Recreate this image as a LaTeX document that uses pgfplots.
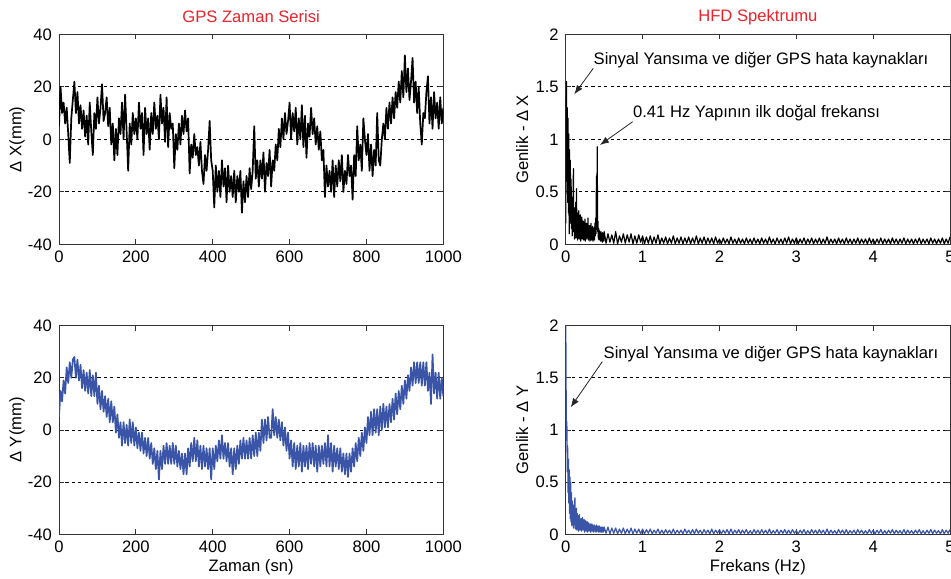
\documentclass[border=0pt]{standalone}
\usepackage{fontspec}
\setmainfont{Liberation Sans}
\usepackage{pgfplots}
\pgfplotsset{compat=1.18}
\usetikzlibrary{arrows.meta}
\definecolor{mlblue}{HTML}{3A55A8}
\definecolor{titlered}{HTML}{E8232B}

\tikzset{
  ann/.style={anchor=base west, inner sep=0pt},
  annarrow/.style={black!85, line width=0.4pt, -{Latex[length=4.5pt,width=3.4pt]}},
}
\pgfplotsset{
  gps/.style={
    scale only axis, width=192.15pt,
    font=\fontsize{8.3}{10}\selectfont,
    /pgf/number format/assume math mode=true,
    /pgf/number format/1000 sep={},
    ymajorgrids,
    major grid style={black, line width=0.4pt, dash pattern=on 1.6pt off 1.6pt},
    axis line style={black!80, line width=0.5pt},
    major tick style={black!80, line width=0.5pt},
    major tick length=2.5pt,
    tick align=inside,
    every axis plot/.append style={line join=round, line width=0.8pt, mark=none},
    every axis title/.style={at={(axis description cs:0.5,1.0586)}, anchor=base, text=titlered},
    xlabel style={at={(axis description cs:0.5,-0.179)}, anchor=base},
    ylabel style={at={(axis description cs:-0.098,0.5)}, anchor=base},
  },
  zaman/.style={gps, xmin=0, xmax=1000, ymin=-40, ymax=40,
    xtick={0,200,...,1000}, ytick={-40,-20,...,40}},
  hfd/.style={gps, xmin=0, xmax=5, ymin=0, ymax=2,
    xtick={0,1,...,5}, ytick={0,0.5,1,1.5,2}},
}

\begin{document}
\begin{tikzpicture}

% ---- GPS time series, X ----
\begin{axis}[zaman, at={(29.5pt,166.85pt)}, anchor=south west, height=105pt,
  title={GPS Zaman Serisi}, ylabel={Δ X(mm)}]
\addplot[black, line width=0.85pt] coordinates {
(0,5) (4,20) (8,10) (12,14) (16,6) (20,12) (24,2) (28,-9) (32,8) (36,15)
(40,22) (44,10) (48,18) (52,6) (56,13) (60,4) (64,11) (68,1) (72,9) (76,-2)
(80,14) (84,3) (88,-6) (92,10) (96,4) (100,16) (104,6) (108,12) (112,21) (116,7)
(120,10) (124,16) (128,5) (132,12) (136,-2) (140,6) (144,-8) (148,4) (152,-6) (156,8)
(160,2) (164,14) (168,0) (172,17) (176,3) (180,-12) (184,6) (188,-2) (192,10) (196,2)
(200,8) (204,0) (208,14) (212,4) (216,10) (220,-6) (224,12) (228,2) (232,8) (236,-4)
(240,10) (244,2) (248,14) (252,4) (256,9) (260,0) (264,17) (268,6) (272,12) (276,-1)
(280,16) (284,-3) (288,10) (292,4) (296,6) (300,-11) (304,2) (308,-4) (312,6) (316,-2)
(320,9) (324,2) (328,11) (332,3) (336,8) (340,-13) (344,-2) (348,-7) (352,2) (356,-6)
(360,-3) (364,-10) (368,-1) (372,-12) (376,-17) (380,-6) (384,-12) (388,-4) (392,7) (396,-8)
(400,-12) (404,-26) (408,-10) (412,-20) (416,-12) (420,-22) (424,-8) (428,-18) (432,-11) (436,-24)
(440,-10) (444,-20) (448,-14) (452,-22) (456,-12) (460,-24) (464,-14) (468,-20) (472,-12) (476,-28)
(480,-16) (484,-24) (488,-14) (492,-22) (496,-11) (500,-19) (504,-12) (508,5) (512,-15) (516,-8)
(520,-18) (524,-8) (528,-15) (532,-5) (536,-20) (540,-9) (544,-14) (548,-4) (552,-18) (556,-8)
(560,-12) (564,-2) (568,-8) (572,4) (576,-3) (580,8) (584,0) (588,10) (592,2) (596,7)
(600,14) (604,0) (608,10) (612,3) (616,12) (620,-2) (624,8) (628,0) (632,13) (636,-3)
(640,9) (644,-7) (648,6) (652,1) (656,12) (660,2) (664,8) (668,-2) (672,5) (676,-4)
(680,3) (684,-8) (688,-4) (692,-22) (696,-10) (700,-18) (704,-12) (708,-20) (712,-8) (716,-22)
(720,-10) (724,-18) (728,-8) (732,-16) (736,-6) (740,-20) (744,-12) (748,-17) (752,-6) (756,-14)
(760,-10) (764,-23) (768,-6) (772,-14) (776,5) (780,-8) (784,-2) (788,-12) (792,8) (796,0)
(800,-6) (804,2) (808,-12) (812,-2) (816,-14) (820,-4) (824,-10) (828,10) (832,-8) (836,-10)
(840,0) (844,6) (848,0) (852,12) (856,4) (860,14) (864,6) (868,16) (872,8) (876,18)
(880,12) (884,22) (888,14) (892,26) (896,16) (900,32) (904,18) (908,27) (912,15) (916,22)
(920,31) (924,14) (928,22) (932,10) (936,20) (940,6) (944,-2) (948,10) (952,8) (956,18)
(960,24) (964,6) (968,16) (972,4) (976,18) (980,8) (984,14) (988,4) (992,16) (996,6) (1000,12)
};
\end{axis}

% ---- GPS time series, Y ----
\begin{axis}[zaman, at={(29.5pt,21.85pt)}, anchor=south west, height=104.3pt,
  xlabel={Zaman (sn)}, ylabel={Δ Y(mm)}]
\addplot[mlblue, line width=0.85pt] coordinates {
(0,5) (4,15) (8,11) (12,19) (16,14) (20,24) (24,18) (28,26) (32,20) (36,27)
(40,28) (44,20) (48,27) (52,19) (56,25) (60,16) (64,23) (68,15) (72,22) (76,14)
(80,23) (84,13) (88,21) (92,13) (96,22) (100,10) (104,17) (108,8) (112,15) (116,7)
(120,13) (124,5) (128,12) (132,3) (136,11) (140,3) (144,9) (148,-1) (152,6) (156,-3)
(160,3) (164,-6) (168,3) (172,-5) (176,2) (180,-6) (184,4) (188,-5) (192,3) (196,-6)
(200,1) (204,-7) (208,-1) (212,-8) (216,-1) (220,-9) (224,-3) (228,-10) (232,-3) (236,-11)
(240,-5) (244,-13) (248,-7) (252,-15) (256,-8) (260,-19) (264,-8) (268,-15) (272,-6) (276,-13)
(280,-5) (284,-13) (288,-6) (292,-13) (296,-5) (300,-13) (304,-6) (308,-14) (312,-8) (316,-15)
(320,-9) (324,-17) (328,-9) (332,-17) (336,-7) (340,-14) (344,-5) (348,-12) (352,-3) (356,-12)
(360,-4) (364,-14) (368,-6) (372,-15) (376,-6) (380,-14) (384,-7) (388,-15) (392,-7) (396,-19)
(400,-7) (404,-15) (408,-6) (412,-12) (416,-4) (420,-11) (424,-2) (428,-11) (432,-5) (436,-12)
(440,-5) (444,-14) (448,-7) (452,-17) (456,-7) (460,-15) (464,-6) (468,-13) (472,-4) (476,-11)
(480,-3) (484,-11) (488,-4) (492,-11) (496,-3) (500,-11) (504,-2) (508,-10) (512,-1) (516,-10)
(520,-1) (524,-8) (528,4) (532,-5) (536,4) (540,-4) (544,5) (548,-3) (552,-3) (556,8)
(560,-2) (564,5) (568,-3) (572,4) (576,-4) (580,3) (584,-6) (588,1) (592,-8) (596,-1)
(600,-11) (604,-4) (608,-14) (612,-5) (616,-15) (620,-6) (624,-14) (628,-5) (632,-16) (636,-6)
(640,-14) (644,-6) (648,-15) (652,-5) (656,-13) (660,-5) (664,-14) (668,-6) (672,-16) (676,-6)
(680,-14) (684,-6) (688,-13) (692,-5) (696,-14) (700,-2) (704,-14) (708,-5) (712,-16) (716,-6)
(720,-14) (724,-7) (728,-15) (732,-7) (736,-16) (740,-9) (744,-17) (748,-9) (752,-18) (756,-9)
(760,-16) (764,-7) (768,-14) (772,-5) (776,-12) (780,-3) (784,-10) (788,-1) (792,-8) (796,1)
(800,-5) (804,5) (808,-2) (812,7) (816,-2) (820,8) (824,-1) (828,8) (832,-2) (836,9)
(840,0) (844,10) (848,1) (852,9) (856,1) (860,10) (864,3) (868,12) (872,4) (876,14)
(880,6) (884,15) (888,8) (892,17) (896,10) (900,19) (904,12) (908,21) (912,15) (916,24)
(920,17) (924,26) (928,18) (932,26) (936,18) (940,26) (944,17) (948,26) (952,17) (956,26)
(960,15) (964,22) (968,10) (972,29) (976,14) (980,22) (984,12) (988,22) (992,12) (996,20) (1000,13)
};
\end{axis}

% ---- spectrum, X ----
\begin{axis}[hfd, at={(282.85pt,166.85pt)}, anchor=south west, height=105pt,
  title={HFD Spektrumu}, ylabel={Genlik - Δ X}]
\addplot[black, line width=0.6pt] coordinates {
(0.000,0.20) (0.005,1.10) (0.010,1.55) (0.015,0.60) (0.020,1.30) (0.025,0.40) (0.030,1.20) (0.035,0.30) (0.040,1.05) (0.045,0.10)
(0.050,0.90) (0.055,0.35) (0.060,0.80) (0.065,0.20) (0.070,0.62) (0.075,0.15) (0.080,0.45) (0.085,0.08) (0.090,0.38) (0.095,0.20)
(0.100,0.72) (0.105,0.12) (0.110,0.35) (0.115,0.05) (0.120,0.30) (0.125,0.10) (0.130,0.40) (0.135,0.06) (0.140,0.53) (0.145,0.12)
(0.150,0.30) (0.155,0.04) (0.160,0.25) (0.165,0.08) (0.170,0.32) (0.175,0.05) (0.180,0.22) (0.185,0.10) (0.190,0.28) (0.195,0.03)
(0.200,0.20) (0.205,0.08) (0.210,0.26) (0.215,0.05) (0.220,0.18) (0.225,0.09) (0.230,0.22) (0.235,0.04) (0.240,0.17) (0.245,0.07)
(0.250,0.24) (0.255,0.03) (0.260,0.15) (0.265,0.08) (0.270,0.20) (0.275,0.05) (0.280,0.16) (0.285,0.09) (0.290,0.25) (0.295,0.04)
(0.300,0.14) (0.305,0.07) (0.310,0.18) (0.315,0.03) (0.320,0.15) (0.325,0.08) (0.330,0.20) (0.335,0.04) (0.340,0.13) (0.345,0.06)
(0.350,0.17) (0.355,0.03) (0.360,0.12) (0.365,0.07) (0.370,0.16) (0.375,0.04) (0.380,0.20) (0.385,0.08) (0.390,0.25) (0.395,0.10)
(0.400,0.65) (0.405,0.15) (0.410,0.93) (0.415,0.12) (0.420,0.22) (0.425,0.05) (0.430,0.15) (0.435,0.04) (0.440,0.13) (0.445,0.06)
(0.450,0.11) (0.455,0.03) (0.460,0.12) (0.465,0.05) (0.470,0.10) (0.475,0.02) (0.480,0.11) (0.485,0.04) (0.490,0.09) (0.495,0.03)
(0.500,0.12)
(0.525,0.01) (0.550,0.10) (0.575,0.02) (0.600,0.09) (0.625,0.01) (0.650,0.12) (0.675,0.005) (0.700,0.08) (0.725,0.02) (0.750,0.10)
(0.775,0.01) (0.800,0.09) (0.825,0.02) (0.850,0.10) (0.875,0.005) (0.900,0.08) (0.925,0.01) (0.950,0.09) (0.975,0.02) (1.000,0.08)
(1.025,0.005) (1.050,0.07) (1.075,0.01) (1.100,0.08) (1.125,0.005) (1.150,0.07) (1.175,0.01) (1.200,0.09) (1.225,0.005) (1.250,0.06)
(1.275,0.01) (1.300,0.07) (1.325,0.005) (1.350,0.06) (1.375,0.01) (1.400,0.08) (1.425,0.005) (1.450,0.06) (1.475,0.01) (1.500,0.07)
(1.525,0.005) (1.550,0.06) (1.575,0.01) (1.600,0.07) (1.625,0.005) (1.650,0.06) (1.675,0.01) (1.700,0.08) (1.725,0.005) (1.750,0.06)
(1.775,0.01) (1.800,0.07) (1.825,0.005) (1.850,0.06) (1.875,0.01) (1.900,0.06) (1.925,0.005) (1.950,0.07) (1.975,0.01) (2.000,0.05)
(2.025,0.005) (2.050,0.06) (2.075,0.01) (2.100,0.05) (2.125,0.005) (2.150,0.07) (2.175,0.01) (2.200,0.05) (2.225,0.005) (2.250,0.06)
(2.275,0.01) (2.300,0.05) (2.325,0.005) (2.350,0.06) (2.375,0.01) (2.400,0.05) (2.425,0.005) (2.450,0.06) (2.475,0.01) (2.500,0.05)
(2.525,0.005) (2.550,0.06) (2.575,0.01) (2.600,0.05) (2.625,0.005) (2.650,0.07) (2.675,0.01) (2.700,0.05) (2.725,0.005) (2.750,0.06)
(2.775,0.01) (2.800,0.05) (2.825,0.005) (2.850,0.06) (2.875,0.01) (2.900,0.07) (2.925,0.005) (2.950,0.05) (2.975,0.01) (3.000,0.06)
(3.025,0.005) (3.050,0.05) (3.075,0.01) (3.100,0.06) (3.125,0.005) (3.150,0.05) (3.175,0.01) (3.200,0.06) (3.225,0.005) (3.250,0.05)
(3.275,0.01) (3.300,0.06) (3.325,0.005) (3.350,0.05) (3.375,0.01) (3.400,0.07) (3.425,0.005) (3.450,0.05) (3.475,0.01) (3.500,0.05)
(3.525,0.005) (3.550,0.06) (3.575,0.01) (3.600,0.05) (3.625,0.005) (3.650,0.06) (3.675,0.01) (3.700,0.05) (3.725,0.005) (3.750,0.05)
(3.775,0.01) (3.800,0.06) (3.825,0.005) (3.850,0.05) (3.875,0.01) (3.900,0.05) (3.925,0.005) (3.950,0.06) (3.975,0.01) (4.000,0.05)
(4.025,0.005) (4.050,0.05) (4.075,0.01) (4.100,0.06) (4.125,0.005) (4.150,0.05) (4.175,0.01) (4.200,0.05) (4.225,0.005) (4.250,0.06)
(4.275,0.01) (4.300,0.05) (4.325,0.005) (4.350,0.05) (4.375,0.01) (4.400,0.06) (4.425,0.005) (4.450,0.05) (4.475,0.01) (4.500,0.05)
(4.525,0.005) (4.550,0.05) (4.575,0.01) (4.600,0.06) (4.625,0.005) (4.650,0.05) (4.675,0.01) (4.700,0.05) (4.725,0.005) (4.750,0.06)
(4.775,0.01) (4.800,0.05) (4.825,0.005) (4.850,0.05) (4.875,0.01) (4.900,0.06) (4.925,0.005) (4.950,0.05) (4.975,0.01) (5.000,0.07)
};
\node[ann] at (axis cs:0.359,1.708) {Sinyal Yansıma ve diğer GPS hata kaynakları};
\draw[annarrow] (axis cs:0.359,1.676) -- (axis cs:0.112,1.429);
\node[ann] at (axis cs:0.872,1.21) {0.41 Hz Yapının ilk doğal frekansı};
\draw[annarrow] (axis cs:0.872,1.168) -- (axis cs:0.446,0.946);
\end{axis}

% ---- spectrum, Y ----
\begin{axis}[hfd, at={(282.85pt,21.85pt)}, anchor=south west, height=104.3pt,
  xlabel={Frekans (Hz)}, ylabel={Genlik - Δ Y}]
\addplot[mlblue, line width=0.6pt] coordinates {
(0.000,2.20) (0.005,1.46) (0.010,0.90) (0.015,1.08) (0.020,0.60) (0.025,0.85) (0.030,0.40) (0.035,0.72) (0.040,0.30) (0.045,0.62)
(0.050,0.20) (0.055,0.55) (0.060,0.15) (0.065,0.50) (0.070,0.12) (0.075,0.40) (0.080,0.08) (0.085,0.32) (0.090,0.10) (0.095,0.28)
(0.100,0.06) (0.105,0.25) (0.110,0.09) (0.115,0.30) (0.120,0.35) (0.125,0.05) (0.130,0.22) (0.135,0.08) (0.140,0.25) (0.145,0.04)
(0.150,0.20) (0.155,0.07) (0.160,0.18) (0.165,0.03) (0.170,0.16) (0.175,0.06) (0.180,0.19) (0.185,0.04) (0.190,0.14) (0.195,0.07)
(0.200,0.15) (0.205,0.03) (0.210,0.13) (0.215,0.06) (0.220,0.16) (0.225,0.04) (0.230,0.12) (0.235,0.05) (0.240,0.14) (0.245,0.02)
(0.250,0.11) (0.255,0.05) (0.260,0.13) (0.265,0.03) (0.270,0.10) (0.275,0.05) (0.280,0.12) (0.285,0.02) (0.290,0.10) (0.295,0.04)
(0.300,0.11) (0.305,0.03) (0.310,0.09) (0.315,0.05) (0.320,0.10) (0.325,0.02) (0.330,0.08) (0.335,0.04) (0.340,0.10) (0.345,0.03)
(0.350,0.09) (0.355,0.05) (0.360,0.08) (0.365,0.02) (0.370,0.09) (0.375,0.04) (0.380,0.07) (0.385,0.03) (0.390,0.08) (0.395,0.02)
(0.400,0.09) (0.405,0.03) (0.410,0.07) (0.415,0.04) (0.420,0.08) (0.425,0.02) (0.430,0.07) (0.435,0.03) (0.440,0.08) (0.445,0.02)
(0.450,0.06) (0.455,0.03) (0.460,0.07) (0.465,0.02) (0.470,0.06) (0.475,0.03) (0.480,0.07) (0.485,0.02) (0.490,0.06) (0.495,0.03)
(0.500,0.07)
(0.525,0.01) (0.550,0.07) (0.575,0.005) (0.600,0.06) (0.625,0.01) (0.650,0.06) (0.675,0.005) (0.700,0.05) (0.725,0.01) (0.750,0.06)
(0.775,0.005) (0.800,0.05) (0.825,0.01) (0.850,0.06) (0.875,0.005) (0.900,0.05) (0.925,0.01) (0.950,0.05) (0.975,0.005) (1.000,0.05)
(1.025,0.005) (1.050,0.045) (1.075,0.01) (1.100,0.05) (1.125,0.005) (1.150,0.04) (1.175,0.01) (1.200,0.05) (1.225,0.005) (1.250,0.04)
(1.275,0.005) (1.300,0.045) (1.325,0.01) (1.350,0.04) (1.375,0.005) (1.400,0.05) (1.425,0.005) (1.450,0.04) (1.475,0.01) (1.500,0.04)
(1.525,0.005) (1.550,0.05) (1.575,0.01) (1.600,0.04) (1.625,0.005) (1.650,0.045) (1.675,0.005) (1.700,0.05) (1.725,0.01) (1.750,0.04)
(1.775,0.005) (1.800,0.045) (1.825,0.01) (1.850,0.04) (1.875,0.005) (1.900,0.05) (1.925,0.005) (1.950,0.04) (1.975,0.01) (2.000,0.045)
(2.025,0.005) (2.050,0.04) (2.075,0.01) (2.100,0.045) (2.125,0.005) (2.150,0.05) (2.175,0.005) (2.200,0.04) (2.225,0.01) (2.250,0.045)
(2.275,0.005) (2.300,0.04) (2.325,0.01) (2.350,0.045) (2.375,0.005) (2.400,0.035) (2.425,0.005) (2.450,0.045) (2.475,0.01) (2.500,0.04)
(2.525,0.005) (2.550,0.045) (2.575,0.01) (2.600,0.04) (2.625,0.005) (2.650,0.05) (2.675,0.005) (2.700,0.035) (2.725,0.01) (2.750,0.045)
(2.775,0.005) (2.800,0.04) (2.825,0.01) (2.850,0.045) (2.875,0.005) (2.900,0.04) (2.925,0.005) (2.950,0.045) (2.975,0.01) (3.000,0.035)
(3.025,0.005) (3.050,0.04) (3.075,0.01) (3.100,0.045) (3.125,0.005) (3.150,0.035) (3.175,0.005) (3.200,0.045) (3.225,0.01) (3.250,0.04)
(3.275,0.005) (3.300,0.045) (3.325,0.01) (3.350,0.04) (3.375,0.005) (3.400,0.05) (3.425,0.005) (3.450,0.04) (3.475,0.01) (3.500,0.035)
(3.525,0.005) (3.550,0.045) (3.575,0.01) (3.600,0.04) (3.625,0.005) (3.650,0.045) (3.675,0.005) (3.700,0.035) (3.725,0.01) (3.750,0.04)
(3.775,0.005) (3.800,0.045) (3.825,0.01) (3.850,0.04) (3.875,0.005) (3.900,0.035) (3.925,0.005) (3.950,0.045) (3.975,0.01) (4.000,0.04)
(4.025,0.005) (4.050,0.04) (4.075,0.01) (4.100,0.045) (4.125,0.005) (4.150,0.035) (4.175,0.005) (4.200,0.04) (4.225,0.01) (4.250,0.045)
(4.275,0.005) (4.300,0.04) (4.325,0.01) (4.350,0.035) (4.375,0.005) (4.400,0.045) (4.425,0.005) (4.450,0.04) (4.475,0.01) (4.500,0.035)
(4.525,0.005) (4.550,0.04) (4.575,0.01) (4.600,0.045) (4.625,0.005) (4.650,0.035) (4.675,0.005) (4.700,0.04) (4.725,0.01) (4.750,0.045)
(4.775,0.005) (4.800,0.04) (4.825,0.01) (4.850,0.035) (4.875,0.005) (4.900,0.045) (4.925,0.005) (4.950,0.04) (4.975,0.01) (5.000,0.045)
};
\node[ann] at (axis cs:0.489,1.681) {Sinyal Yansıma ve diğer GPS hata kaynakları};
\draw[annarrow] (axis cs:0.476,1.655) -- (axis cs:0.065,1.218);
\end{axis}

\pgfresetboundingbox
\useasboundingbox (0,0) rectangle (475.5pt,289pt);
\end{tikzpicture}
\end{document}
